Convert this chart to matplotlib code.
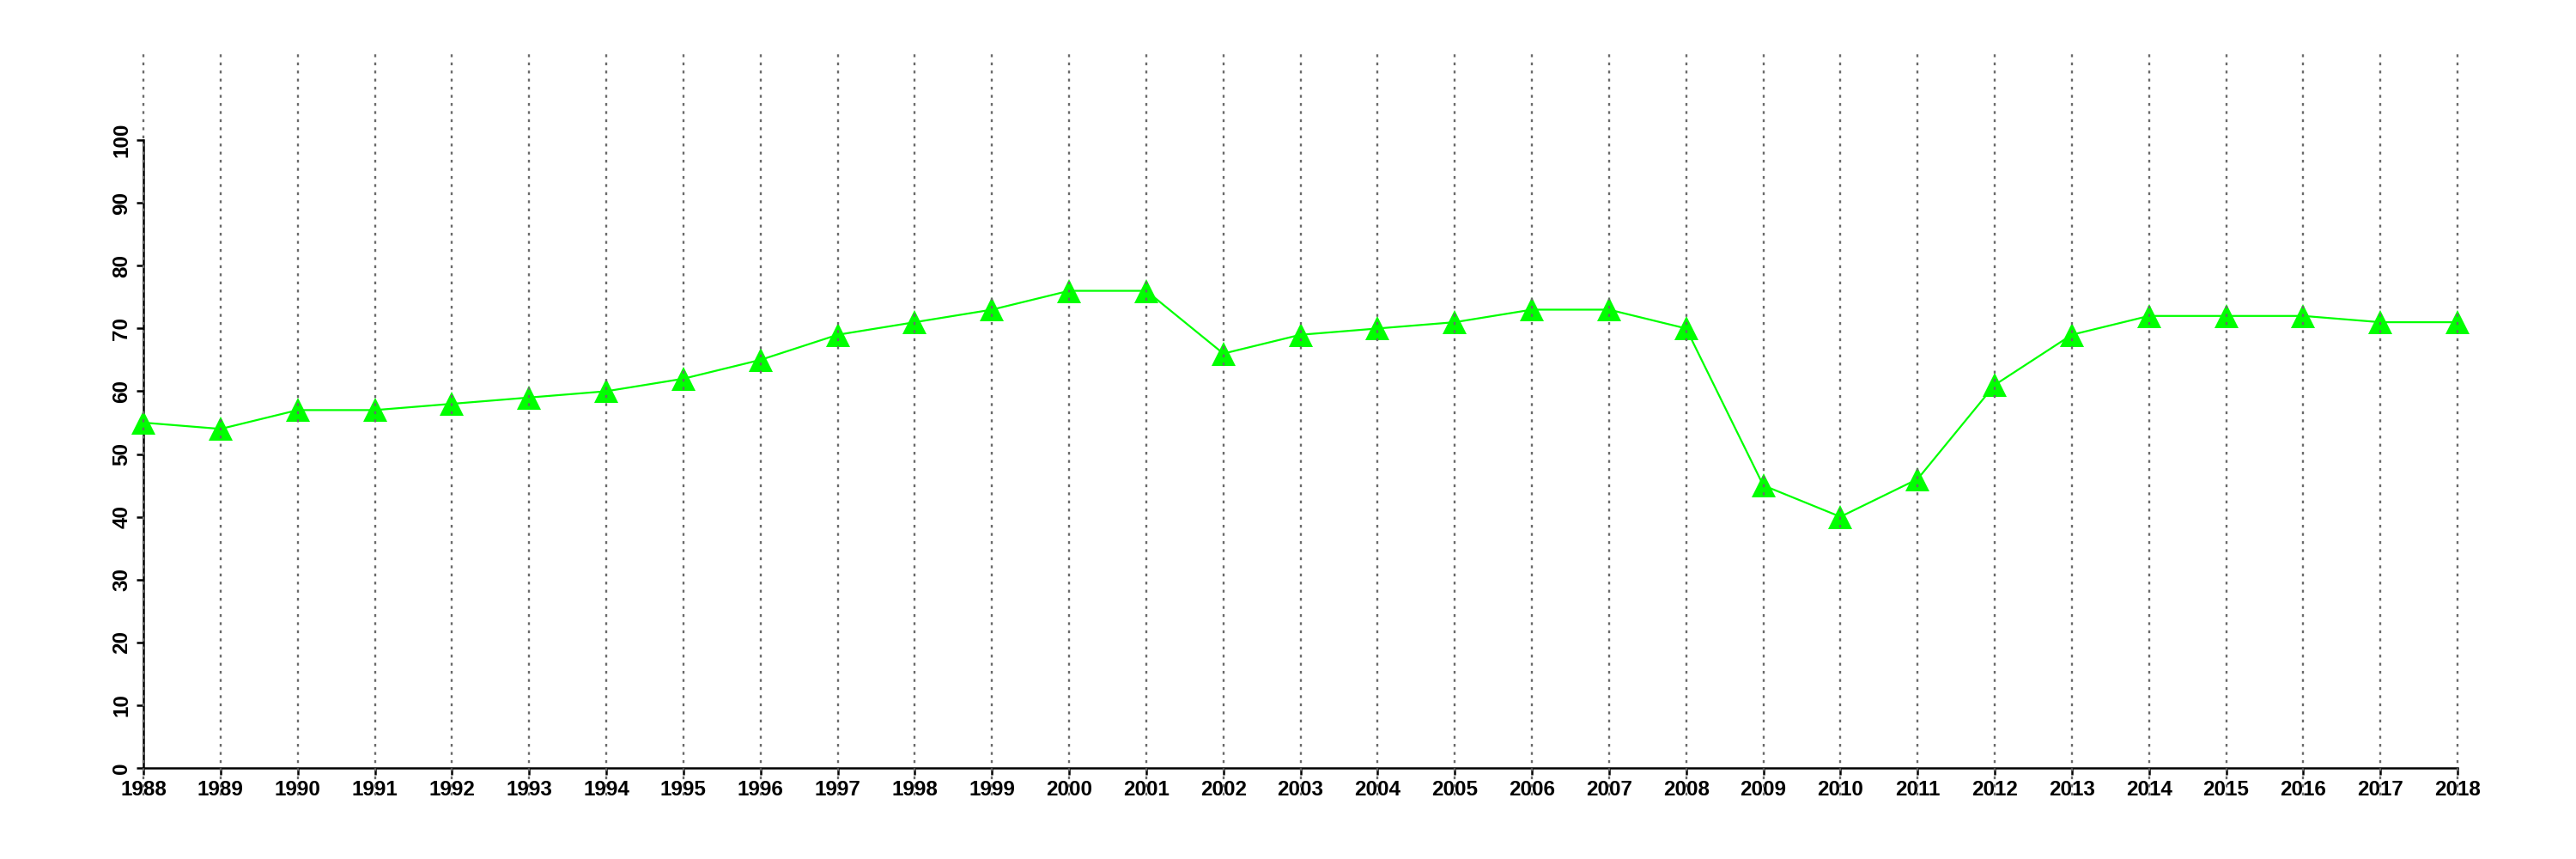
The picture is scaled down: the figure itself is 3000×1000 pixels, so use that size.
import matplotlib.pyplot as plt

# values
years = list(range(1988, 2019))
values = [55, 54, 57, 57, 58, 59, 60, 62, 65, 69, 71, 73, 76, 76, 66, 69,
          70, 71, 73, 73, 70, 45, 40, 46, 61, 69, 72, 72, 72, 71, 71]
yticks = list(range(0, 101, 10))

plt.rcParams['font.family'] = ['Liberation Sans', 'DejaVu Sans']

fig = plt.figure(figsize=(30, 10), dpi=100)
ax = fig.add_axes([0.0557, 0.074, 0.8983, 0.868])

ax.plot(years, values, color='#00ff00', linewidth=1.6, marker='^',
        markersize=20, markeredgewidth=0, zorder=3, clip_on=False)

# dotted vertical lines over everything, like abline(v=..., lty=3)
for yr in years:
    ax.axvline(yr, color='#6a6a6a', linestyle=(0, (1.4, 2.6)), linewidth=1.7,
               zorder=5, clip_on=False)

ax.set_xlim(1988, 2018)
ax.set_ylim(-4.4, 114.4)

ax.spines['top'].set_visible(False)
ax.spines['right'].set_visible(False)
ax.spines['left'].set_bounds(0, 100)
ax.spines['bottom'].set_position(('data', 0))
ax.spines['bottom'].set_bounds(1988, 2018)
ax.spines['left'].set_linewidth(1.8)
ax.spines['bottom'].set_linewidth(1.8)

ax.set_xticks(years)
ax.set_xticklabels([str(y) for y in years], fontsize=17.5, fontweight='bold')
ax.set_yticks(yticks)
ax.set_yticklabels([str(v) for v in yticks], fontsize=17.5, fontweight='bold',
                   rotation=90, va='center')
ax.tick_params(axis='both', length=6, width=1.8, pad=4)

fig.savefig('out.png', dpi=100)
